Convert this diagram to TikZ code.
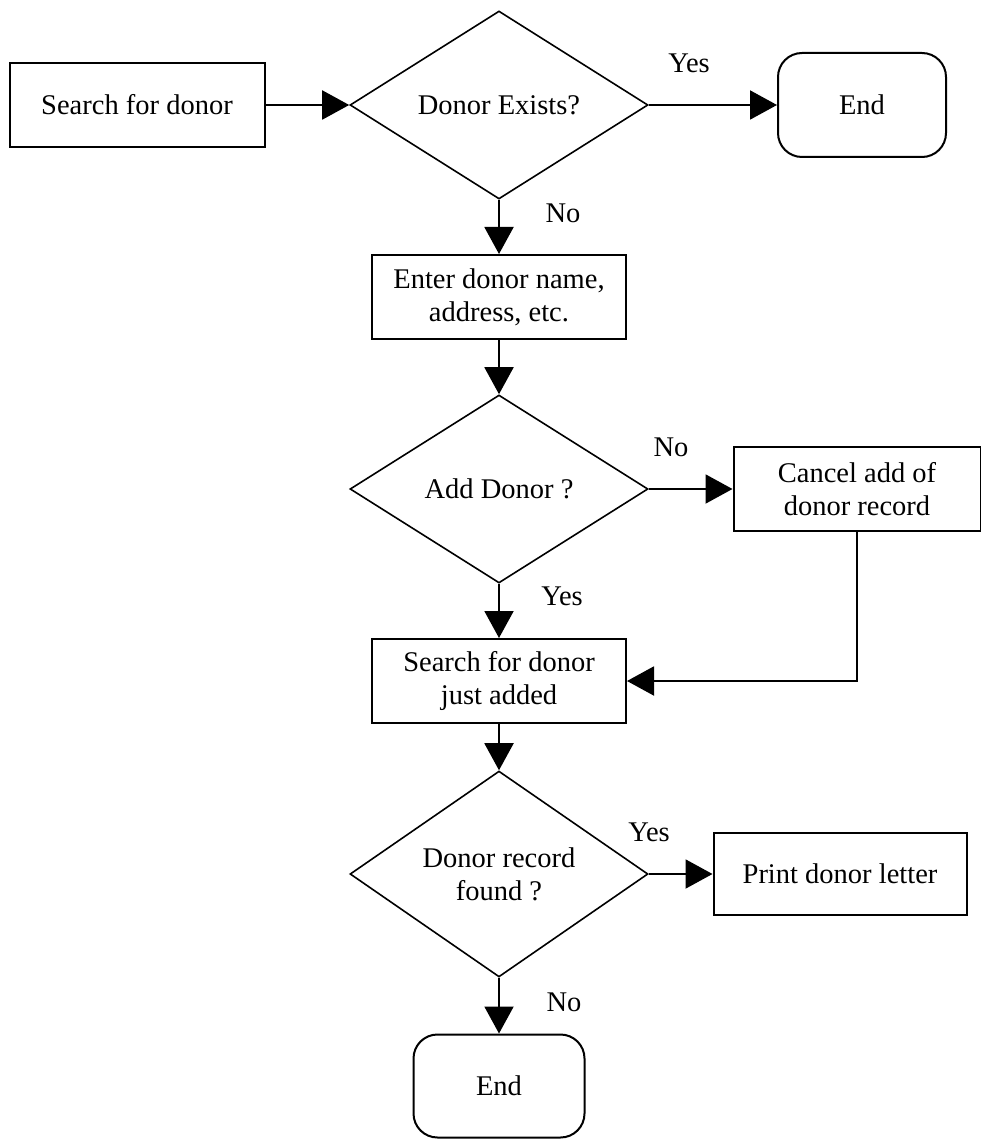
\documentclass[tikz,border=0pt]{standalone}
\usepackage{fontspec}
\setmainfont{Liberation Serif}
\usetikzlibrary{shapes.geometric,arrows.meta}

\tikzset{
  procbox/.style={draw, line width=2pt, rectangle, align=center, inner sep=2pt},
  decision/.style={draw, line width=1.6pt, diamond, align=center, inner sep=0pt,
                   minimum width=298pt, minimum height=188pt},
  terminal/.style={draw, line width=2pt, rectangle, rounded corners=24pt, align=center},
  flow/.style={line width=2pt, -{Triangle[length=27pt,width=29pt]}}
}

\begin{document}
\begin{tikzpicture}[x=1pt,y=-1pt,font=\fontsize{28.5}{33}\selectfont]
\useasboundingbox (0,0) rectangle (981,1139);

%Shapes: top row
\node[procbox, minimum width=255pt, minimum height=84pt] (search) at (137,105) {Search for donor};
\node[decision] (exists) at (499,105) {Donor Exists?};
\node[terminal, minimum width=168pt, minimum height=104pt] (endtop) at (862,105) {End};

%Shapes: middle
\node[procbox, minimum width=254pt, minimum height=84pt] (enter) at (499,297) {Enter donor name,\\ address, etc.};
\node[decision] (adddonor) at (499,489) {Add Donor ?};
\node[procbox, minimum width=247pt, minimum height=84pt] (cancel) at (857,489) {Cancel add of\\donor record};
\node[procbox, minimum width=254pt, minimum height=84pt] (searchnew) at (499,681) {Search for donor\\just added};

%Shapes: bottom
\node[decision] (found) at (499,874) {Donor record\\found ?};
\node[procbox, minimum width=253pt, minimum height=82pt] (letter) at (840,874) {Print donor letter};
\node[terminal, minimum width=171pt, minimum height=103pt] (endbot) at (499,1086) {End};

%Connectors
\draw[flow] (search) -- (exists);
\draw[flow] (exists) -- (endtop);
\draw[flow] (exists) -- (enter);
\draw[flow] (enter) -- (adddonor);
\draw[flow] (adddonor) -- (cancel);
\draw[flow] (adddonor) -- (searchnew);
\draw[flow] (cancel.south) |- (searchnew.east);
\draw[flow] (searchnew) -- (found);
\draw[flow] (found) -- (letter);
\draw[flow] (found) -- (endbot);

% Text Nodes
\node (yes1) at (689,63) {Yes};
\node (no1) at (563,213) {No};
\node (no2) at (671,447) {No};
\node (yes2) at (562,596) {Yes};
\node (yes3) at (649,832) {Yes};
\node (no3) at (564,1002) {No};

\end{tikzpicture}
\end{document}
